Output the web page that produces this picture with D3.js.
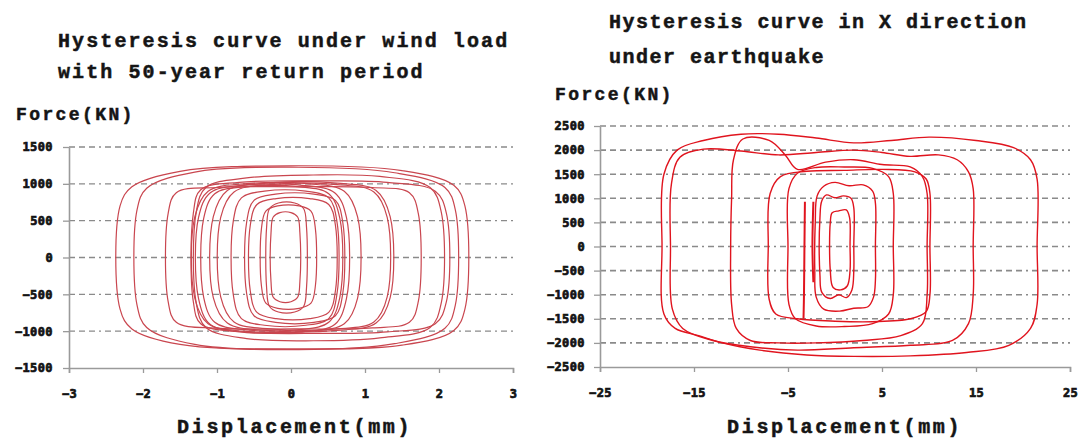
<!DOCTYPE html>
<html>
<head>
<meta charset="utf-8">
<script src="https://cdn.jsdelivr.net/npm/d3@7"></script>
<style>
  body { margin: 0; background: #fff; }
  svg text { font-family: "Liberation Mono", "DejaVu Sans Mono", monospace; font-weight: bold; fill: #151515; stroke: #151515; stroke-width: 0.5px; }
</style>
</head>
<body>
<svg id="chart" width="1086" height="441"></svg>
<script>
// ---- wind load panel (left) ----
const windTitle = ["Hysteresis curve under wind load", "with 50-year return period"];
const windXTicks = [-3, -2, -1, 0, 1, 2, 3];
const windYTicks = [1500, 1000, 500, 0, -500, -1000, -1500];
// each loop: [displacement mm, force kN] points
const windLoops = [
  [[2.35,700],[2.2,980],[1.5,1180],[0.0,1245],[-1.5,1170],[-2.15,960],[-2.31,700],[-2.31,-700],[-2.15,-970],[-1.5,-1180],[0.0,-1240],[1.5,-1190],[2.2,-990],[2.35,-700]],
  [[2.22,650],[2.08,950],[1.4,1150],[0.1,1225],[-1.3,1160],[-1.95,940],[-2.08,650],[-2.08,-650],[-1.95,-950],[-1.3,-1180],[0.1,-1250],[1.4,-1170],[2.08,-960],[2.22,-650]],
  [[1.72,600],[1.6,880],[1.1,950],[0.05,960],[-1.0,950],[-1.55,880],[-1.66,600],[-1.66,-600],[-1.55,-880],[-1.0,-960],[0.05,-970],[1.1,-955],[1.6,-880],[1.72,-600]],
  [[2.1,600],[1.95,900],[1.3,1020],[0.4,1040],[-0.7,1020],[-1.22,920],[-1.32,600],[-1.32,-600],[-1.22,-900],[-0.7,-1010],[0.4,-1030],[1.3,-1010],[1.95,-900],[2.1,-600]],
  [[2.03,620],[1.88,950],[1.2,1100],[0.3,1120],[-0.6,1080],[-1.15,950],[-1.28,620],[-1.28,-620],[-1.15,-950],[-0.6,-1100],[0.3,-1130],[1.2,-1090],[1.88,-950],[2.03,-620]],
  [[0.9,550],[0.72,900],[0.24,1000],[-0.64,1000],[-1.12,900],[-1.3,550],[-1.3,-550],[-1.12,-900],[-0.64,-1000],[0.24,-1000],[0.72,-900],[0.9,-550]],
  [[0.75,540],[0.59,880],[0.15,980],[-0.65,980],[-1.09,880],[-1.25,540],[-1.25,-555],[-1.09,-910],[-0.65,-1010],[0.15,-1010],[0.59,-910],[0.75,-555]],
  [[0.66,530],[0.51,865],[0.11,960],[-0.63,960],[-1.03,865],[-1.18,530],[-1.18,-540],[-1.03,-880],[-0.63,-980],[0.11,-980],[0.51,-880],[0.66,-540]],
  [[1.34,555],[1.15,910],[0.62,1010],[-0.33,1010],[-0.86,910],[-1.05,555],[-1.05,-545],[-0.86,-890],[-0.33,-990],[0.62,-990],[1.15,-890],[1.34,-545]],
  [[1.3,545],[1.12,890],[0.62,990],[-0.27,990],[-0.77,890],[-0.95,545],[-0.95,-535],[-0.77,-875],[-0.27,-970],[0.62,-970],[1.12,-875],[1.3,-535]],
  [[0.62,495],[0.51,810],[0.2,900],[-0.36,900],[-0.67,810],[-0.78,495],[-0.78,-505],[-0.67,-830],[-0.36,-920],[0.2,-920],[0.51,-830],[0.62,-505]],
  [[0.7,475],[0.6,775],[0.31,860],[-0.21,860],[-0.5,775],[-0.6,475],[-0.6,-485],[-0.5,-790],[-0.21,-880],[0.31,-880],[0.6,-790],[0.7,-485]],
  [[0.6,440],[0.51,720],[0.25,800],[-0.2,800],[-0.46,720],[-0.55,440],[-0.55,-455],[-0.46,-745],[-0.2,-830],[0.25,-830],[0.51,-745],[0.6,-455]],
  [[0.33,385],[0.27,630],[0.11,700],[-0.18,700],[-0.34,630],[-0.4,385],[-0.4,-380],[-0.34,-620],[-0.18,-690],[0.11,-690],[0.27,-620],[0.33,-380]],
  [[0.21,405],[0.17,665],[0.05,740],[-0.17,740],[-0.29,665],[-0.33,405],[-0.33,-405],[-0.29,-665],[-0.17,-740],[0.05,-740],[0.17,-665],[0.21,-405]],
  [[0.12,335],[0.09,550],[0.0,610],[-0.15,610],[-0.24,550],[-0.27,335],[-0.27,-330],[-0.24,-540],[-0.15,-600],[0.0,-600],[0.09,-540],[0.12,-330]]
];

// ---- earthquake panel (right) ----
const quakeTitle = ["Hysteresis curve in X direction", "under earthquake"];
const quakeXTicks = [-25, -15, -5, 5, 15, 25];
const quakeYTicks = [2500, 2000, 1500, 1000, 500, 0, -500, -1000, -1500, -2000, -2500];
const quakeLoops = [
  [[21.5,0],[21.5,1400],[20.8,1800],[19,2050],[15,2200],[10,2270],[6,2200],[2,2150],[-2,2250],[-6,2330],[-10,2330],[-14,2200],[-16.8,2000],[-18.2,1500],[-18.4,0],[-18.2,-1400],[-17,-1700],[-14.5,-1850],[-12,-2000],[-8,-2150],[-3,-2250],[2,-2280],[8,-2270],[14,-2200],[18.5,-2050],[20.8,-1700],[21.5,-1200]],
  [[14.7,0],[14.7,1200],[14.2,1550],[13,1800],[11,1900],[8,1870],[5,1950],[2,2000],[-2,1950],[-6,1900],[-10,1980],[-14,2020],[-16.5,1850],[-17.4,1300],[-17.5,0],[-17.3,-1300],[-16.2,-1700],[-13,-1950],[-9,-2080],[-4,-2150],[2,-2100],[8,-2050],[12.5,-1950],[14.2,-1600],[14.7,-1000]],
  [[9.8,0],[9.8,1100],[9.3,1450],[8,1650],[5,1700],[2,1800],[-1,1750],[-4,1600],[-5.3,1900],[-7,2200],[-9.8,2230],[-10.8,1800],[-11,1000],[-11.1,0],[-11,-1200],[-10.5,-1700],[-9,-1950],[-6,-2000],[-2,-2000],[3,-1950],[7,-1850],[9.3,-1600],[9.8,-1000]],
  [[10.1,0],[10.1,1100],[9.7,1400],[8.5,1550],[5,1600],[1,1580],[-3,1560],[-5.8,1450],[-6.9,1100],[-7.1,0],[-7.0,-1100],[-6.3,-1400],[-4,-1500],[0,-1550],[4,-1560],[8,-1500],[9.7,-1350],[10.1,-1000]],
  [[6.2,0],[6.2,1100],[5.7,1450],[4,1620],[1,1650],[-2,1640],[-4,1520],[-4.9,1200],[-5.0,0],[-4.9,-1200],[-4.2,-1500],[-2,-1650],[1,-1660],[4,-1600],[5.7,-1400],[6.2,-1000]],
  [[4.3,0],[4.3,900],[4.0,1150],[3,1280],[1.5,1260],[0,1330],[-1.2,1250],[-1.9,1050],[-2.1,500],[-2.15,-500],[-2.0,-1050],[-1.2,-1300],[0.5,-1340],[2,-1280],[3.5,-1250],[4.1,-1050],[4.3,-700]],
  [[2.0,0],[2.0,800],[1.7,1000],[0.9,1050],[0,1010],[-0.9,1070],[-1.4,950],[-1.6,600],[-1.6,-600],[-1.4,-950],[-0.5,-1080],[0.4,-1000],[1.2,-1060],[1.8,-900],[2.0,-500]],
  [[1.6,0],[1.55,600],[1.2,760],[0.4,740],[-0.3,700],[-0.5,500],[-0.5,-500],[-0.2,-850],[0.6,-900],[1.3,-820],[1.6,-500]]
];
const quakeSpikes = [
  [[-3.2,930],[-3.25,0],[-3.3,-1000],[-3.35,-1500]],
  [[-2.3,930],[-2.4,0],[-2.3,-740]]
];

const svg = d3.select("#chart");

function drawPanel(p) {
  const x = d3.scaleLinear().domain(p.xDomain).range([p.left, p.right]);
  const y = d3.scaleLinear().domain(p.yDomain).range([p.bottom, p.top]);
  const g = svg.append("g");

  // dashed grid
  g.append("g").selectAll("line")
    .data(p.yTicks.filter(d => d !== p.yDomain[0]))
    .join("line")
    .attr("x1", p.left).attr("x2", p.right)
    .attr("y1", d => y(d)).attr("y2", d => y(d))
    .attr("stroke", "#8a8a8a")
    .attr("stroke-width", p.gridWidth)
    .attr("stroke-dasharray", "6,4,6,4,6,4,2,4");

  // axes
  const xa = g.append("g")
    .attr("transform", `translate(0,${p.bottom})`)
    .call(d3.axisBottom(x).tickValues(p.xTicks).tickFormat(d3.format("d"))
      .tickSize(5).tickSizeOuter(5).tickPadding(16));
  const ya = g.append("g")
    .attr("transform", `translate(${p.left},0)`)
    .call(d3.axisLeft(y).tickValues(p.yTicks).tickFormat(d3.format("d"))
      .tickSize(6).tickSizeOuter(0).tickPadding(p.yPad));
  [xa, ya].forEach(a => {
    a.attr("color", "#9a9a9a");
    a.select(".domain").attr("stroke-width", 1.6);
    a.selectAll(".tick line").attr("stroke-width", 1.3);
    a.selectAll("text")
      .attr("fill", "#111")
      .style("stroke", "#111")
      .style("stroke-width", "0.7px")
      .style("font-family", "'DejaVu Sans Mono', monospace")
      .style("font-weight", "bold")
      .style("font-size", "12px")
      .style("letter-spacing", "0.4px");
  });

  // hysteresis loops
  const loop = d3.line().x(d => x(d[0])).y(d => y(d[1])).curve(d3.curveCatmullRomClosed.alpha(0.5));
  g.append("g").selectAll("path")
    .data(p.loops)
    .join("path")
    .attr("d", loop)
    .attr("fill", "none")
    .attr("stroke", p.color)
    .attr("stroke-width", p.lineWidth);
  if (p.spikes) {
    const open = d3.line().x(d => x(d[0])).y(d => y(d[1])).curve(d3.curveCatmullRom);
    g.append("g").selectAll("path")
      .data(p.spikes)
      .join("path")
      .attr("d", open)
      .attr("fill", "none")
      .attr("stroke", p.color)
      .attr("stroke-width", p.lineWidth + 0.6);
  }

  // titles
  g.append("g").selectAll("text")
    .data(p.title)
    .join("text")
    .attr("x", p.titleX)
    .attr("y", (d, i) => p.titleY + i * p.titleGap)
    .style("font-size", "20px")
    .style("letter-spacing", p.titleSpacing + "px")
    .text(d => d);

  g.append("text")
    .attr("x", p.forceX).attr("y", p.forceY)
    .style("font-size", "18px")
    .style("letter-spacing", "2.4px")
    .text("Force(KN)");

  g.append("text")
    .attr("x", p.dispX).attr("y", p.dispY)
    .style("font-size", "20px")
    .style("letter-spacing", "2.7px")
    .text("Displacement(mm)");
}

drawPanel({
  xDomain: [-3, 3], yDomain: [-1500, 1500],
  left: 69, right: 513, top: 147, bottom: 368,
  xTicks: windXTicks, yTicks: windYTicks, yPad: 10,
  loops: windLoops, color: "#c9464f", lineWidth: 1.2, gridWidth: 1.3,
  title: windTitle, titleX: 58, titleY: 47, titleGap: 31, titleSpacing: 2.1,
  forceX: 16, forceY: 120, dispX: 177, dispY: 433
});

drawPanel({
  xDomain: [-25, 25], yDomain: [-2500, 2500],
  left: 600, right: 1070, top: 126, bottom: 367,
  xTicks: quakeXTicks, yTicks: quakeYTicks, yPad: 9,
  loops: quakeLoops, spikes: quakeSpikes, color: "#e0141e", lineWidth: 1.4, gridWidth: 1.6,
  title: quakeTitle, titleX: 609, titleY: 28, titleGap: 35, titleSpacing: 1.5,
  forceX: 555, forceY: 100, dispX: 727, dispY: 433
});
</script>
</body>
</html>
